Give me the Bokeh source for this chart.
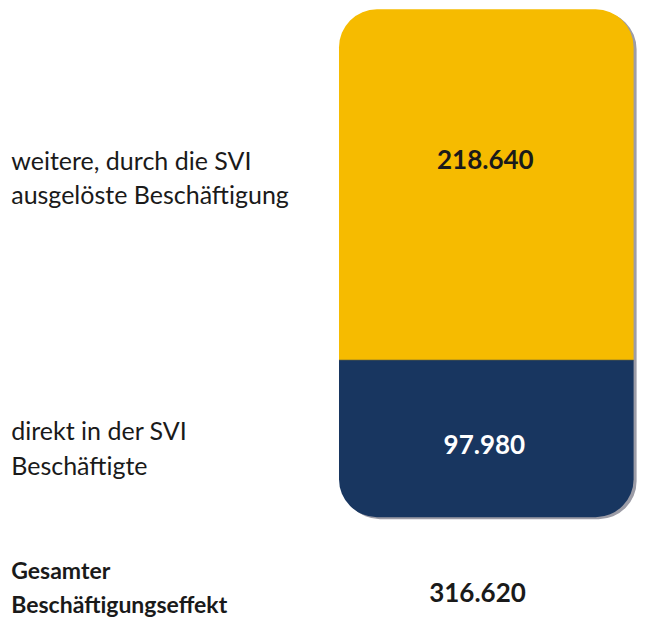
from bokeh.plotting import figure
from bokeh.models import Range1d
from bokeh.core.properties import value
from bokeh.embed import file_html
from bokeh.resources import INLINE

# ---- data ----
segments = ["direkt in der SVI Beschäftigte", "weitere, durch die SVI ausgelöste Beschäftigung"]
values = [97980, 218640]
value_labels = ["97.980", "218.640"]
total = sum(values)
total_label = "316.620"
left_labels = [["weitere, durch die SVI", "ausgelöste Beschäftigung"],
               ["direkt in der SVI", "Beschäftigte"]]
total_lines = ["Gesamter", "Beschäftigungseffekt"]
colors = ["#183660", "#F6BB00"]

# ---- layout ----
W, H = 637, 619
SX, SY = W / 653, H / 635

bar_top_ref, bar_bot_ref = 9, 530
TOP_PX = bar_top_ref * SY
BOTTOM_PX = H - bar_bot_ref * SY
k = (H - BOTTOM_PX - TOP_PX) / total   # px per unit
y0 = -BOTTOM_PX / k
y1 = total + TOP_PX / k

def yd(ref_y):
    """reference pixel row -> data y"""
    return (H - ref_y * SY) / k + y0

def xd(ref_x):
    return ref_x * SX

p = figure(width=W, height=H, output_backend="svg", toolbar_location=None,
           x_range=Range1d(0, W), y_range=Range1d(y0, y1),
           min_border=0, min_border_left=0, min_border_right=0,
           min_border_top=0, min_border_bottom=0)
p.axis.visible = False
p.grid.visible = False
p.outline_line_color = None
p.background_fill_color = "white"
p.border_fill_color = "white"

bar_l, bar_r = xd(347), xd(649)
bar_x = (bar_l + bar_r) / 2
bar_w = bar_r - bar_l
R = 38

# shadow
p.vbar(x=[bar_x + 3], width=bar_w, bottom=[0 - 2 / k], top=[total - 2 / k],
       fill_color="#9c9ca6", line_color=None, border_radius=R)

bottoms = [0, values[0]]
tops = [values[0], total]
p.vbar(x=[bar_x], width=bar_w, bottom=[bottoms[1]], top=[tops[1]],
       fill_color=colors[1], line_color=None, border_radius=(R, R, 0, 0))
p.vbar(x=[bar_x], width=bar_w, bottom=[bottoms[0]], top=[tops[0]],
       fill_color=colors[0], line_color=None, border_radius=(0, 0, R, R))
p.segment(x0=[bar_l], x1=[bar_r], y0=[values[0]], y1=[values[0]],
          line_color="#6e6a3a", line_width=1, line_alpha=0.6)

# values inside bar
p.text(x=[xd(497), xd(496)], y=[yd(163), yd(455)], text=[value_labels[1], value_labels[0]],
       text_color=["#1a1a1a", "white"], text_font=value("Lato"), text_font_style="bold",
       text_font_size="26px", text_align="center", text_baseline="middle")

# total
p.text(x=[xd(489)], y=[yd(607)], text=[total_label], text_color="#1a1a1a",
       text_font=value("Lato"), text_font_style="bold", text_font_size="26px",
       text_align="center", text_baseline="middle")

# left labels
lx = xd(11)
p.text(x=[lx, lx], y=[yd(164), yd(199)], text=left_labels[0], text_color="#1a1a1a",
       text_font=value("Lato"), text_font_size="25px", text_align="left",
       text_baseline="alphabetic")
p.text(x=[lx, lx], y=[yd(441), yd(476)], text=left_labels[1], text_color="#1a1a1a",
       text_font=value("Lato"), text_font_size="25px", text_align="left",
       text_baseline="alphabetic")
p.text(x=[lx, lx], y=[yd(584), yd(619)], text=total_lines, text_color="#1a1a1a",
       text_font=value("Lato"), text_font_style="bold", text_font_size="23px",
       text_align="left", text_baseline="alphabetic")

open("out.html", "w").write(file_html(p, INLINE))
